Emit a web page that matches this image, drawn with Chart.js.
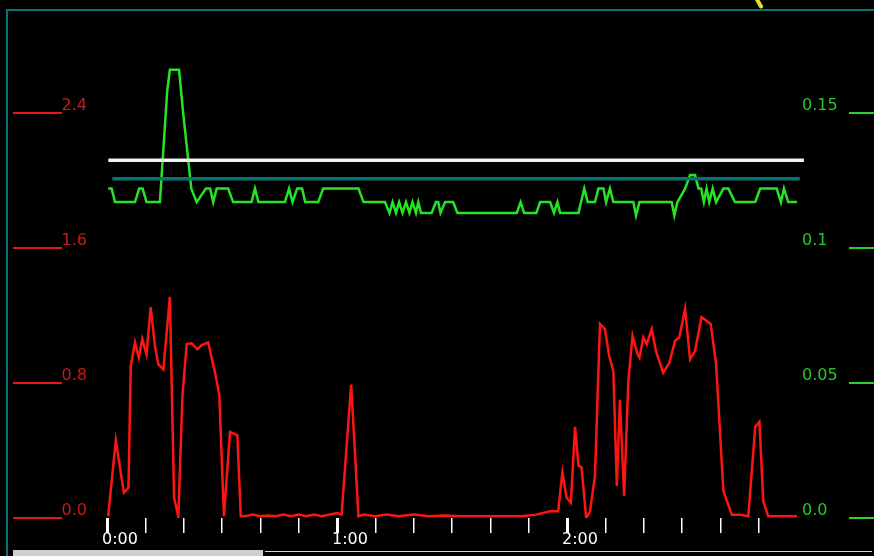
<!DOCTYPE html>
<html>
<head>
<meta charset="utf-8">
<script src="https://cdn.jsdelivr.net/npm/chart.js@4.4.1/dist/chart.umd.min.js"></script>
<style>
  html, body { margin: 0; padding: 0; background: #000; overflow: hidden; }
  #wrap { position: relative; width: 874px; height: 556px; }
  #frame { position: absolute; left: 6px; top: 9px; width: 900px; height: 600px;
           border-left: 2px solid #087373; border-top: 2px solid #087373; }
  #scrollThumb { position: absolute; left: 13px; top: 550px; width: 250px; height: 6px; background: #cfcfcf; }
  #scrollTrack { position: absolute; left: 265px; top: 551px; width: 607px; height: 1px; background: #d8d8d8; }
  #blip { position: absolute; left: 757px; top: -3px; width: 4px; height: 12px; background: #e8e020;
          transform: rotate(-30deg); border-radius: 2px; }
  canvas { position: absolute; left: 0; top: 0; }
</style>
</head>
<body>
<div id="wrap">
  <div id="frame"></div>
  <div id="blip"></div>
  <canvas id="chart" width="874" height="556"></canvas>
  <div id="scrollThumb"></div>
  <div id="scrollTrack"></div>
</div>
<script>
// time in minutes from 0:00
const redMinutes = [0.3, 2.3, 4.4, 5.6, 6.2, 7.3, 8.3, 9.2, 10.3, 11.4, 12.5, 13.4, 14.7, 16.4, 17.5, 18.6,
  19.7, 20.8, 22.1, 23.6, 24.7, 26.4, 28.2, 29.3, 30.5, 32.1, 34.0, 34.9,
  36, 38, 40, 42, 44, 46, 48, 50, 52, 54, 56, 58, 60, 61.2, 63.7, 65.6,
  67, 70, 73, 76, 80, 84, 88, 92, 96, 100, 104, 108, 112, 115.6, 117.7,
  118.8, 119.9, 121, 122.1, 123, 123.8, 125, 126, 127.3, 128.6, 129.9, 131, 132.1, 133, 133.8, 134.9,
  136, 137.1, 138.4, 138.9, 139.9, 140.8, 142.1, 143.2, 145.1, 146.7, 148.2, 149.3, 150.8, 152.1,
  153.4, 155.1, 157.5, 158.9, 160.8, 163, 165.1, 167.3, 169.1, 170.2, 171.2, 172.5, 176, 180];
const redValues = [0.01, 0.46, 0.15, 0.18, 0.90, 1.04, 0.95, 1.06, 0.97, 1.25, 1.02, 0.91, 0.88, 1.31, 0.12, 0.01,
  0.73, 1.03, 1.035, 1.00, 1.025, 1.04, 0.86, 0.73, 0.01, 0.51, 0.49, 0.01,
  0.01, 0.02, 0.01, 0.015, 0.01, 0.02, 0.01, 0.02, 0.01, 0.02, 0.01, 0.02, 0.03, 0.02, 0.79, 0.01,
  0.02, 0.01, 0.02, 0.01, 0.02, 0.01, 0.015, 0.01, 0.01, 0.01, 0.01, 0.01, 0.02, 0.04, 0.04,
  0.27, 0.12, 0.09, 0.54, 0.31, 0.30, 0.0, 0.04, 0.25, 1.15, 1.12, 0.96, 0.87, 0.19, 0.70, 0.13,
  0.81, 1.08, 0.97, 0.95, 1.07, 1.03, 1.12, 0.99, 0.86, 0.92, 1.05, 1.07, 1.24, 0.94,
  0.99, 1.19, 1.15, 0.91, 0.16, 0.02, 0.02, 0.01, 0.54, 0.57, 0.10, 0.01, 0.01, 0.01];

const greenMinutes = [0.3, 1.2, 2.1, 7.3, 8.4, 9.3, 10.3, 13.8, 15.7, 16.4, 18.8, 19.8, 22.0, 23.4,
  25.8, 26.9, 27.7, 28.6, 31.6, 32.9, 37.7, 38.6, 39.5, 46.4, 47.5, 48.4, 49.6, 50.9, 51.7, 55.1, 56.4,
  65.6, 66.9, 72.5, 73.7, 74.5, 75.4, 76.2, 77.1, 78.0, 78.9, 79.7, 80.6, 81.2, 81.9, 84.7, 85.8, 86.4,
  87.0, 88.2, 90.3, 91.4, 106.9, 107.9, 108.8, 112.0, 113.0, 115.6, 116.6, 117.5, 118.2, 123.0, 124.5,
  125.4, 127.3, 128.2, 129.5, 130.2, 131.2, 132.1, 137.3, 138.0, 138.9, 147.3, 148.0, 148.8, 150.8,
  152.1, 153.4, 154.3, 155.0, 155.7, 156.4, 157.1, 158.0, 158.9, 160.8, 162.1, 163.8, 169.1, 170.4,
  174.7, 175.8, 176.6, 177.7, 180.2];
const greenValues = [0.122, 0.122, 0.117, 0.117, 0.122, 0.122, 0.117, 0.117, 0.158, 0.166, 0.166, 0.151, 0.122, 0.117,
  0.122, 0.122, 0.117, 0.122, 0.122, 0.117, 0.117, 0.122, 0.117, 0.117, 0.122, 0.117, 0.122, 0.122, 0.117, 0.117, 0.122,
  0.122, 0.117, 0.117, 0.113, 0.117, 0.113, 0.117, 0.113, 0.117, 0.113, 0.117, 0.113, 0.117, 0.113, 0.113, 0.117, 0.117,
  0.113, 0.117, 0.117, 0.113, 0.113, 0.117, 0.113, 0.113, 0.117, 0.117, 0.113, 0.117, 0.113, 0.113, 0.122,
  0.117, 0.117, 0.122, 0.122, 0.117, 0.122, 0.117, 0.117, 0.112, 0.117, 0.117, 0.112, 0.117, 0.122,
  0.127, 0.127, 0.122, 0.122, 0.117, 0.122, 0.117, 0.122, 0.117, 0.122, 0.122, 0.117, 0.117, 0.122,
  0.122, 0.117, 0.122, 0.117, 0.117];

// reference levels (left axis)
const whiteMinutes = [0.35, 181.8];
const whiteValues = [2.12, 2.12];
const tealMinutes = [1.4, 180.7];
const tealValues = [2.01, 2.01];

const leftTicks = [0, 0.8, 1.6, 2.4];
const leftLabels = ['0.0', '0.8', '1.6', '2.4'];
const rightTicks = [0, 0.05, 0.1, 0.15];
const rightLabels = ['0.0', '0.05', '0.1', '0.15'];
const timeTicks = [0, 10, 20, 30, 40, 50, 60, 70, 80, 90, 100, 110, 120, 130, 140, 150, 160, 170];
const hourLabels = { 0: '0:00', 60: '1:00', 120: '2:00' };

const pts = (xs, ys) => xs.map((x, i) => ({ x: x, y: ys[i] }));

const sideTicks = {
    id: 'sideTicks',
    afterDraw(chart) {
        const ctx = chart.ctx;
        const yl = chart.scales.y, yr = chart.scales.y1;
        ctx.save();
        ctx.lineWidth = 2;
        ctx.strokeStyle = '#e81616';
        yl.ticks.forEach(t => {
            const p = Math.round(yl.getPixelForValue(t.value));
            ctx.beginPath(); ctx.moveTo(13, p); ctx.lineTo(62, p); ctx.stroke();
        });
        ctx.strokeStyle = '#22d622';
        yr.ticks.forEach(t => {
            const p = Math.round(yr.getPixelForValue(t.value));
            ctx.beginPath(); ctx.moveTo(849, p); ctx.lineTo(874, p); ctx.stroke();
        });
        ctx.restore();
    }
};

const font = { family: 'DejaVu Sans', size: 16 };

new Chart(document.getElementById('chart').getContext('2d'), {
    type: 'line',
    data: {
        datasets: [
            { data: pts(whiteMinutes, whiteValues), yAxisID: 'y', borderColor: '#f2f2f2', borderWidth: 3.5, clip: false },
            { data: pts(tealMinutes, tealValues), yAxisID: 'y', borderColor: '#087373', borderWidth: 3.5, clip: false },
            { data: pts(greenMinutes, greenValues), yAxisID: 'y1', borderColor: '#24e424', borderWidth: 2.5 },
            { data: pts(redMinutes, redValues), yAxisID: 'y', borderColor: '#ff1414', borderWidth: 2.5 }
        ]
    },
    options: {
        responsive: false,
        animation: false,
        devicePixelRatio: 1,
        parsing: false,
        layout: { padding: { top: 32, left: 0, right: 0, bottom: 0 } },
        elements: { point: { radius: 0 }, line: { tension: 0, borderCapStyle: 'butt' } },
        plugins: { legend: { display: false }, tooltip: { enabled: false } },
        scales: {
            x: {
                type: 'linear', min: 0, max: 180,
                afterBuildTicks: s => { s.ticks = timeTicks.map(v => ({ value: v })); },
                afterFit: s => { s.height = 38; },
                border: { display: false },
                grid: {
                    drawOnChartArea: false, drawTicks: true, tickLength: 15,
                    color: '#ffffff',
                    lineWidth: c => (c.tick && hourLabels[c.tick.value] ? 3 : 1.5)
                },
                ticks: {
                    color: '#ffffff', font: font, padding: -3, align: 'start', labelOffset: -5,
                    maxRotation: 0, autoSkip: false,
                    callback: v => hourLabels[v] || ''
                }
            },
            y: {
                position: 'left', min: 0, max: 2.88,
                afterBuildTicks: s => { s.ticks = leftTicks.map(v => ({ value: v })); },
                afterFit: s => { s.width = 107; },
                border: { display: false },
                grid: { display: false, drawTicks: false },
                ticks: {
                    color: '#c81a1a', font: font, padding: 20, labelOffset: -7,
                    callback: v => leftLabels[leftTicks.indexOf(v)]
                }
            },
            y1: {
                position: 'right', min: 0, max: 0.18,
                afterBuildTicks: s => { s.ticks = rightTicks.map(v => ({ value: v })); },
                afterFit: s => { s.width = 77; },
                border: { display: false },
                grid: { display: false, drawTicks: false },
                ticks: {
                    color: '#26c826', font: font, padding: 5, labelOffset: -7,
                    callback: v => rightLabels[rightTicks.indexOf(v)]
                }
            }
        }
    },
    plugins: [sideTicks]
});
</script>
</body>
</html>
